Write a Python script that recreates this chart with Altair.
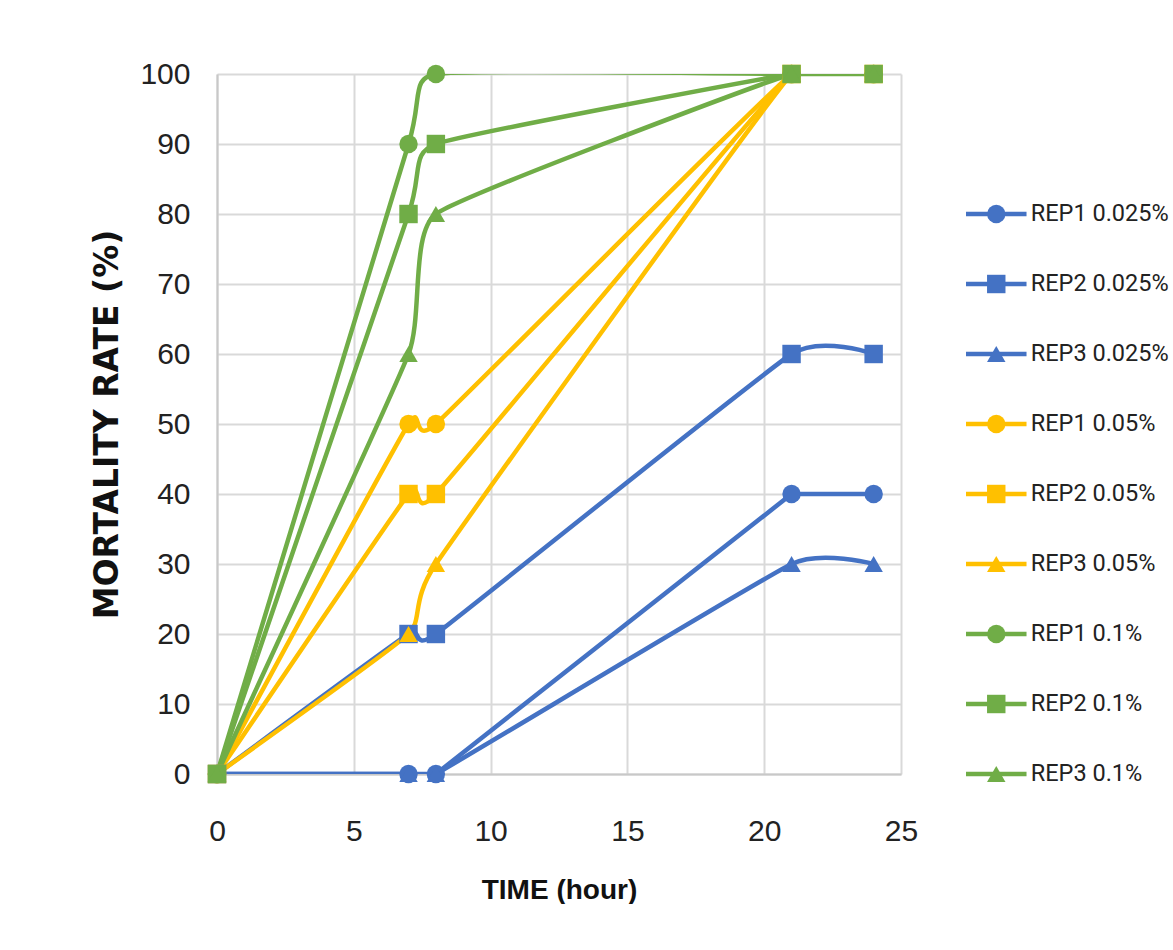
import altair as alt
import pandas as pd

# ---- data ----
times = [0, 7, 8, 21, 24]
series_names = [
    "REP1 0.025%", "REP2 0.025%", "REP3 0.025%",
    "REP1 0.05%", "REP2 0.05%", "REP3 0.05%",
    "REP1 0.1%", "REP2 0.1%", "REP3 0.1%",
]
rep1_0025 = [0, 0, 0, 40, 40]
rep2_0025 = [0, 20, 20, 60, 60]
rep3_0025 = [0, 0, 0, 30, 30]
rep1_005 = [0, 50, 50, 100, 100]
rep2_005 = [0, 40, 40, 100, 100]
rep3_005 = [0, 20, 30, 100, 100]
rep1_01 = [0, 90, 100, 100, 100]
rep2_01 = [0, 80, 90, 100, 100]
rep3_01 = [0, 60, 80, 100, 100]
series_values = [rep1_0025, rep2_0025, rep3_0025,
                 rep1_005, rep2_005, rep3_005,
                 rep1_01, rep2_01, rep3_01]
x_ticks = [0, 5, 10, 15, 20, 25]
y_ticks = list(range(0, 101, 10))

colors = ["#4472C4"] * 3 + ["#FFC000"] * 3 + ["#70AD47"] * 3
shapes = ["circle", "square", "triangle-up"] * 3

rows = []
for name, vals in zip(series_names, series_values):
    for t, v in zip(times, vals):
        rows.append({"series": name, "time": t, "rate": v})
df = pd.DataFrame(rows)
leg_df = pd.DataFrame({"series": series_names})

LABEL_FONT = "Liberation Sans, Arial, sans-serif"

color_scale = alt.Scale(domain=series_names, range=colors)
shape_scale = alt.Scale(domain=series_names, range=shapes)

x_enc = alt.X("time:Q", scale=alt.Scale(domain=[0, 25]),
              axis=alt.Axis(values=x_ticks, title="TIME (hour)",
                            labelPadding=42, titlePadding=30, labelFlush=False,
                            titleFont=LABEL_FONT, titleFontSize=28,
                            titleFontWeight="bold"))
y_enc = alt.Y("rate:Q", scale=alt.Scale(domain=[0, 100]),
              axis=alt.Axis(values=y_ticks, title="MORTALITY RATE (%)",
                            labelPadding=27, titlePadding=15, labelFlush=False,
                            titleFont="DejaVu Sans", titleFontSize=33,
                            titleFontWeight="bold"))
col = alt.Color("series:N", scale=color_scale, legend=None)
shp = alt.Shape("series:N", scale=shape_scale, legend=None)

base = alt.Chart(df)
line_flat = base.transform_filter(alt.datum.series == series_names[0]).mark_line(
    interpolate="linear", strokeWidth=4.5, clip=True
).encode(x=x_enc, y=y_enc, color=col)
line_smooth = base.transform_filter(alt.datum.series != series_names[0]).mark_line(
    interpolate="cardinal", tension=0.6, strokeWidth=4.5, clip=True
).encode(x=x_enc, y=y_enc, color=col)
pts = base.mark_point(filled=True, size=340, opacity=1).encode(
    x=x_enc, y=y_enc, color=col, shape=shp)

main = alt.layer(line_flat, line_smooth, pts).properties(width=684, height=700)

# ---- custom legend panel (line + marker + text) ----
lx = alt.Scale(domain=[0, 210 / 62])
ly = alt.Scale(domain=[-1, 9], reverse=True)
lbase = alt.Chart(leg_df).transform_window(idx="row_number()")
leg_line = lbase.mark_rule(strokeWidth=4.5).encode(
    x=alt.X(datum=0, scale=lx, axis=None),
    x2=alt.X2(datum=1),
    y=alt.Y("idx:Q", scale=ly, axis=None),
    color=col)
leg_pt = lbase.mark_point(filled=True, size=340, opacity=1).encode(
    x=alt.X(datum=0.5, scale=lx, axis=None),
    y=alt.Y("idx:Q", scale=ly, axis=None),
    color=col, shape=shp)
leg_txt = lbase.mark_text(align="left", baseline="middle", font="Roboto",
                          fontSize=23.5, color="#222222").encode(
    x=alt.X(datum=1.07, scale=lx, axis=None),
    y=alt.Y("idx:Q", scale=ly, axis=None),
    text="series:N")
legend_panel = alt.layer(leg_line, leg_pt, leg_txt).properties(width=205, height=700)

chart = alt.hconcat(main, legend_panel, spacing=45).properties(
    padding={"left": 91, "top": 59, "right": 0, "bottom": 0},
    background="white",
).configure_view(stroke=None).configure_axis(
    labelFont=LABEL_FONT, labelFontSize=30, labelColor="#222222",
    titleColor="#111111",
    gridColor="#d9d9d9", gridWidth=2,
    domainColor="#c8c8c8", domainWidth=2,
    ticks=False,
)

chart.save("out.html", embed_options={"renderer": "svg", "actions": False})
